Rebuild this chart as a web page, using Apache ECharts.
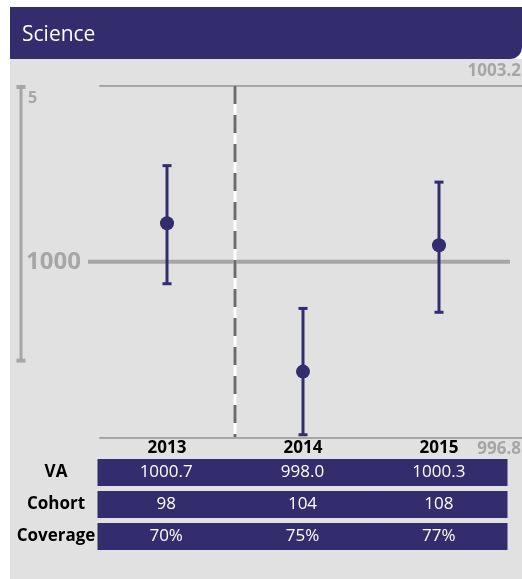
<!DOCTYPE html>
<html>
<head>
<meta charset="utf-8">
<script src="https://cdn.jsdelivr.net/npm/echarts@6/dist/echarts.min.js"></script>
<style>
  html, body { margin: 0; padding: 0; background: #fff; }
  #chart { width: 522px; height: 579px; }
</style>
</head>
<body>
<div id="chart"></div>
<script>
// data
var categories = ['2013', '2014', '2015'];
var vaValues = [1000.7, 998.0, 1000.3];
var ciLower = [999.6, 996.85, 999.08];
var ciUpper = [1001.75, 999.15, 1001.45];
var cohort = [98, 104, 108];
var coverage = ['70%', '75%', '77%'];
var rowLabels = ['VA', 'Cohort', 'Coverage'];
var yMin = 996.8, yMax = 1003.2, centre = 1000, scaleBar = 5;
var breakAt = 0.5; // between 2013 and 2014

var navy = '#332c6d';
var grey = '#a6a6a6';
var font = 'Open Sans';

var chart = echarts.init(document.getElementById('chart'));

// table cells: [col, row, text]
var tableCells = [];
categories.forEach(function (c, i) {
    tableCells.push([i, 0, vaValues[i].toFixed(1)]);
    tableCells.push([i, 1, String(cohort[i])]);
    tableCells.push([i, 2, coverage[i]]);
});

var plotTop = 86, plotH = 351.5;

function txt(text, size, weight, color, align) {
    return {
        legacy: false,
        text: text, fill: color, fontFamily: font, fontSize: size, fontWeight: weight,
        align: align || 'left', verticalAlign: 'middle'
    };
}

var option = {
    backgroundColor: '#fff',
    animation: false,
    graphic: [
        { type: 'rect', z: -10, shape: { x: 10, y: 59, width: 512, height: 520 }, style: { fill: '#e1e1e1' } },
        { type: 'rect', z: -9, shape: { x: 10, y: 7, width: 512, height: 52, r: [0, 0, 12, 0] }, style: { fill: navy } },
        { type: 'text', x: 22, y: 35, style: txt('Science', 21, 'normal', '#fff') },
        { type: 'text', x: 521, y: 71, style: txt(yMax.toFixed(1), 17, 'bold', grey, 'right') },
        { type: 'text', x: 521, y: 449, style: txt(yMin.toFixed(1), 17, 'bold', grey, 'right') },
        { type: 'text', x: 28, y: 98, style: txt(String(scaleBar), 16, 'bold', grey) }
    ],
    grid: [
        { left: 99, right: 15, top: plotTop, height: plotH },   // main
        { left: 100, right: 0, top: plotTop, height: plotH },   // top / bottom rules
        { left: 88, right: 12, top: plotTop, height: plotH },   // centre line
        { left: 12, width: 18, top: plotTop, height: plotH },   // scale bar
        { left: 98, right: 15, top: 456.5, height: 96 }         // table
    ],
    xAxis: [
        {
            type: 'category', gridIndex: 0, data: categories,
            axisLine: { show: false }, axisTick: { show: false },
            axisLabel: { margin: 2, color: '#000', fontFamily: font, fontWeight: 'bold', fontSize: 17 }
        },
        { type: 'value', gridIndex: 0, min: -0.5, max: 2.5, show: false },
        {
            type: 'value', gridIndex: 1, position: 'bottom', min: 0, max: 1,
            axisLine: { show: true, lineStyle: { color: grey, width: 2 } },
            axisTick: { show: false }, axisLabel: { show: false }, splitLine: { show: false }
        },
        {
            type: 'value', gridIndex: 1, position: 'top', min: 0, max: 1,
            axisLine: { show: true, lineStyle: { color: grey, width: 2 } },
            axisTick: { show: false }, axisLabel: { show: false }, splitLine: { show: false }
        },
        { type: 'value', gridIndex: 2, min: 0, max: 1, show: false },
        { type: 'value', gridIndex: 3, min: 0, max: 1, show: false },
        { type: 'category', gridIndex: 4, data: categories, show: false }
    ],
    yAxis: [
        { type: 'value', gridIndex: 0, min: yMin, max: yMax, show: false },
        { type: 'value', gridIndex: 1, min: yMin, max: yMax, show: false },
        {
            type: 'value', gridIndex: 2, min: yMin, max: yMax,
            axisLine: { show: false }, axisTick: { show: false }, splitLine: { show: false },
            axisLabel: {
                margin: 7, color: grey, fontFamily: font, fontWeight: 'bold', fontSize: 24,
                showMinLabel: false, showMaxLabel: false,
                formatter: function (v) { return Math.abs(v - centre) < 1e-6 ? String(centre) : ''; }
            }
        },
        { type: 'value', gridIndex: 3, min: yMin, max: yMax, show: false },
        {
            type: 'category', gridIndex: 4, data: rowLabels, inverse: true,
            axisLine: { show: false }, axisTick: { show: false },
            axisLabel: { margin: 42, align: 'center', color: '#000', fontFamily: font, fontWeight: 'bold', fontSize: 17 }
        }
    ],
    series: [
        {
            name: 'centre', type: 'line', xAxisIndex: 4, yAxisIndex: 2, z: 1,
            symbol: 'none', silent: true,
            lineStyle: { color: grey, width: 4 },
            data: [[0, centre], [1, centre]]
        },
        {
            name: 'break-bg', type: 'line', xAxisIndex: 1, yAxisIndex: 0, z: 3,
            symbol: 'none', silent: true,
            lineStyle: { color: '#fff', width: 3 },
            data: [[breakAt, yMax], [breakAt, yMin]]
        },
        {
            name: 'break', type: 'line', xAxisIndex: 1, yAxisIndex: 0, z: 4,
            symbol: 'none', silent: true,
            lineStyle: { color: '#6b6b6b', width: 3, type: [18, 11] },
            data: [[breakAt, yMax], [breakAt, yMin]]
        },
        {
            name: 'ci', type: 'custom', xAxisIndex: 0, yAxisIndex: 0, z: 5, clip: false,
            data: categories.map(function (c, i) { return [i, ciLower[i], ciUpper[i]]; }),
            renderItem: function (params, api) {
                var lo = api.coord([api.value(0), api.value(1)]);
                var hi = api.coord([api.value(0), api.value(2)]);
                var st = { stroke: navy, lineWidth: 3 };
                var cap = 4.5;
                return {
                    type: 'group',
                    children: [
                        { type: 'line', shape: { x1: lo[0], y1: lo[1], x2: hi[0], y2: hi[1] }, style: st },
                        { type: 'line', shape: { x1: hi[0] - cap, y1: hi[1], x2: hi[0] + cap, y2: hi[1] }, style: st },
                        { type: 'line', shape: { x1: lo[0] - cap, y1: lo[1], x2: lo[0] + cap, y2: lo[1] }, style: st }
                    ]
                };
            }
        },
        {
            name: 'VA', type: 'scatter', xAxisIndex: 0, yAxisIndex: 0, z: 6,
            symbol: 'circle', symbolSize: 14,
            itemStyle: { color: navy, opacity: 1 },
            data: vaValues
        },
        {
            name: 'scale', type: 'custom', xAxisIndex: 5, yAxisIndex: 3, z: 5, clip: false,
            data: [[0.5, yMax - scaleBar, yMax]],
            renderItem: function (params, api) {
                var lo = api.coord([api.value(0), api.value(1)]);
                var hi = api.coord([api.value(0), api.value(2)]);
                return {
                    type: 'group',
                    children: [
                        { type: 'line', shape: { x1: lo[0], y1: lo[1], x2: hi[0], y2: hi[1] }, style: { stroke: grey, lineWidth: 3 } },
                        { type: 'rect', shape: { x: hi[0] - 4.5, y: hi[1] - 1, width: 9, height: 4 }, style: { fill: grey } },
                        { type: 'rect', shape: { x: lo[0] - 4.5, y: lo[1] - 2, width: 9, height: 4 }, style: { fill: grey } }
                    ]
                };
            }
        },
        {
            name: 'table', type: 'custom', xAxisIndex: 6, yAxisIndex: 4, z: 5,
            data: tableCells,
            renderItem: function (params, api) {
                var c = api.coord([api.value(0), api.value(1)]);
                var sz = api.size([1, 1]);
                var h = 27;
                return {
                    type: 'group',
                    children: [
                        { type: 'rect', shape: { x: c[0] - sz[0] / 2 - 0.5, y: c[1] - h / 2, width: sz[0] + 1, height: h }, style: { fill: navy } },
                        { type: 'text', x: c[0], y: c[1], style: txt(tableCells[params.dataIndex][2], 17, 'normal', '#fff', 'center') }
                    ]
                };
            }
        }
    ]
};

chart.setOption(option);
</script>
</body>
</html>
